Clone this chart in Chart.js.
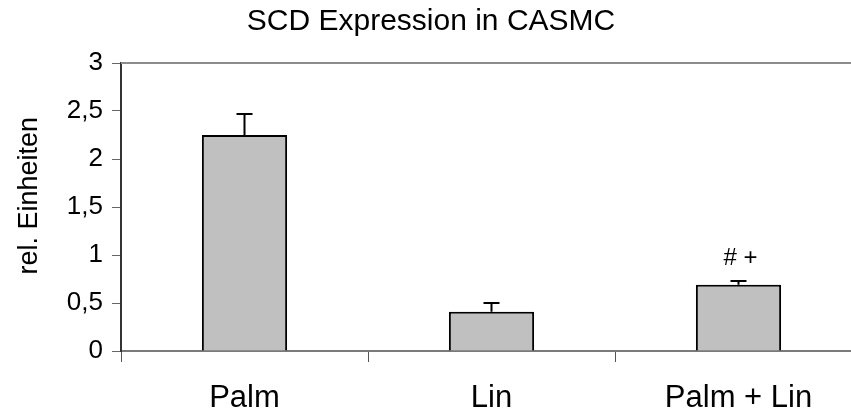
<!DOCTYPE html>
<html>
<head>
<meta charset="utf-8">
<title>SCD Expression in CASMC</title>
<script src="https://cdn.jsdelivr.net/npm/chart.js@4"></script>
<style>
  html, body { margin: 0; padding: 0; background: #fff; overflow: hidden; }
  #wrap { width: 862px; height: 412px; }
</style>
</head>
<body>
<div id="wrap"><canvas id="scdChart"></canvas></div>
<script>
// values
const categories = ["Palm", "Lin", "Palm + Lin"];
const expression = [2.25, 0.41, 0.69];
const stdErrors = [0.22, 0.09, 0.04];
const significance = ["", "", "# +"];
const yTicks = [0, 0.5, 1, 1.5, 2, 2.5, 3];

const FONT = "'Liberation Sans', Arial, sans-serif";

// upper error whiskers + significance markers
const errorBars = {
  id: "errorBars",
  afterDatasetsDraw(chart) {
    const ctx = chart.ctx;
    const y = chart.scales.y;
    const meta = chart.getDatasetMeta(0);
    ctx.save();
    ctx.strokeStyle = "#000";
    ctx.lineWidth = 2;
    meta.data.forEach((bar, i) => {
      const top = y.getPixelForValue(expression[i] + stdErrors[i]);
      const base = y.getPixelForValue(expression[i]);
      ctx.beginPath();
      ctx.moveTo(bar.x, base);
      ctx.lineTo(bar.x, top);
      ctx.moveTo(bar.x - 8, top);
      ctx.lineTo(bar.x + 8, top);
      ctx.stroke();
      if (significance[i]) {
        ctx.fillStyle = "#000";
        ctx.font = "24px " + FONT;
        ctx.textAlign = "center";
        ctx.textBaseline = "middle";
        ctx.fillText(significance[i], bar.x + 2, top - 23);
      }
    });
    ctx.restore();
  }
};

// grey frame line along the top of the plot area
const topFrame = {
  id: "topFrame",
  beforeDatasetsDraw(chart) {
    const { ctx, chartArea } = chart;
    ctx.save();
    ctx.strokeStyle = "#8c8c8c";
    ctx.lineWidth = 2;
    ctx.beginPath();
    ctx.moveTo(chartArea.left, chartArea.top);
    ctx.lineTo(chartArea.right, chartArea.top);
    ctx.stroke();
    ctx.restore();
  }
};

new Chart(document.getElementById("scdChart"), {
  type: "bar",
  data: {
    labels: categories,
    datasets: [{
      data: expression,
      backgroundColor: "#c0c0c0",
      borderColor: "#000",
      borderWidth: 2,
      barPercentage: 0.345,
      categoryPercentage: 1
    }]
  },
  options: {
    responsive: true,
    maintainAspectRatio: false,
    animation: false,
    layout: { padding: { left: 0, right: 0, top: 0, bottom: 0 } },
    plugins: {
      legend: { display: false },
      tooltip: { enabled: false },
      title: {
        display: true,
        text: "SCD Expression in CASMC",
        color: "#000",
        font: { family: FONT, size: 30, weight: "normal" },
        padding: { top: 4, bottom: 23 }
      }
    },
    scales: {
      x: {
        offset: true,
        grid: {
          offset: true,
          drawOnChartArea: false,
          drawTicks: true,
          tickLength: 11,
          color: "#555"
        },
        border: { color: "#7a7a7a", width: 2 },
        ticks: {
          color: "#000",
          padding: 18,
          font: { family: FONT, size: 31 }
        },
        afterFit(scale) { scale.height = 61; }
      },
      y: {
        min: 0,
        max: 3,
        afterBuildTicks(scale) { scale.ticks = yTicks.map(v => ({ value: v })); },
        grid: {
          drawOnChartArea: false,
          drawTicks: true,
          tickLength: 9,
          color: "#666"
        },
        border: { color: "#333", width: 2 },
        ticks: {
          color: "#000",
          padding: 9,
          font: { family: FONT, size: 26 },
          callback: v => String(v).replace(".", ",")
        },
        title: {
          display: true,
          text: "   rel. Einheiten",
          color: "#000",
          font: { family: FONT, size: 27 },
          padding: { top: 13, bottom: 0 }
        },
        afterFit(scale) { scale.width = 121; }
      }
    }
  },
  plugins: [topFrame, errorBars]
});
</script>
</body>
</html>
